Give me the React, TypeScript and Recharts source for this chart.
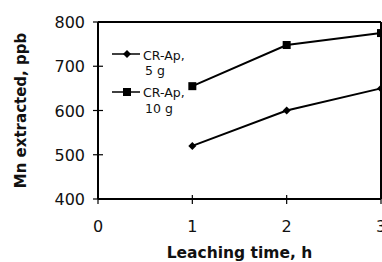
import { LineChart, Line, XAxis, YAxis, ReferenceLine } from 'recharts';

const hours = [1, 2, 3];
const mn5g = [520, 600, 650];
const mn10g = [655, 748, 775];
const xTicks = [0, 1, 2, 3];
const yTicks = [400, 500, 600, 700, 800];
const seriesNames = ['CR-Ap,|5 g', 'CR-Ap,|10 g'];

const data = hours.map((h, i) => ({ h, a: mn5g[i], b: mn10g[i] }));

const FONT = '"DejaVu Sans", Arial, sans-serif';

function XTick(props: any) {
  const { x, y, payload } = props;
  return (
    <g>
      <line x1={x} x2={x} y1={y - 4} y2={y + 5} stroke="#000" strokeWidth={1.2} />
      <text x={x} y={y + 33} textAnchor="middle" fontSize={16} fontFamily={FONT} fill="#111">
        {payload.value}
      </text>
    </g>
  );
}

function YTick(props: any) {
  const { x, y, payload } = props;
  return (
    <g>
      <line x1={x - 5} x2={x + 5} y1={y} y2={y} stroke="#000" strokeWidth={1.2} />
      <text x={x - 13} y={y + 6} textAnchor="end" fontSize={16} fontFamily={FONT} fill="#111">
        {payload.value}
      </text>
    </g>
  );
}

function Diamond(props: any) {
  const { cx, cy } = props;
  if (cx == null || cy == null) return null;
  return <path d={`M${cx} ${cy - 4}L${cx + 4} ${cy}L${cx} ${cy + 4}L${cx - 4} ${cy}Z`} fill="#000" />;
}

function Square(props: any) {
  const { cx, cy } = props;
  if (cx == null || cy == null) return null;
  return <rect x={cx - 4} y={cy - 4} width={8} height={8} fill="#000" />;
}

function LegendBox() {
  const [a1, a2] = seriesNames[0].split('|');
  const [b1, b2] = seriesNames[1].split('|');
  return (
    <svg width={80} height={72} style={{ position: 'absolute', left: 112, top: 47 }}>
      <line x1={0} x2={28} y1={7} y2={7} stroke="#000" strokeWidth={1.5} />
      <Diamond cx={15} cy={7} />
      <text x={31} y={13} fontSize={12.5} fontFamily={FONT} fill="#111">{a1}</text>
      <text x={33} y={28} fontSize={12.5} fontFamily={FONT} fill="#111">{a2}</text>
      <line x1={0} x2={28} y1={45} y2={45} stroke="#000" strokeWidth={1.5} />
      <Square cx={15} cy={45} />
      <text x={31} y={50} fontSize={12.5} fontFamily={FONT} fill="#111">{b1}</text>
      <text x={33} y={66} fontSize={12.5} fontFamily={FONT} fill="#111">{b2}</text>
    </svg>
  );
}

export default function App() {
  return (
    <div style={{ position: 'fixed', left: 0, top: 0, width: 382, height: 262, overflow: 'hidden', background: '#fff' }}>
      <LineChart
        width={400}
        height={262}
        data={data}
        margin={{ top: 22, right: 19, bottom: 0, left: 0 }}
      >
        <XAxis
          dataKey="h"
          type="number"
          domain={[0, 3]}
          ticks={xTicks}
          tickSize={0}
          tickMargin={0}
          tickLine={false}
          tick={<XTick />}
          axisLine={{ stroke: '#000', strokeWidth: 2 }}
          height={63}
          label={{
            value: 'Leaching time, h',
            position: 'insideBottom',
            offset: 4,
            style: { fontSize: 15.5, fontWeight: 'bold', fontFamily: FONT, fill: '#111' },
          }}
        />
        <YAxis
          type="number"
          domain={[400, 800]}
          ticks={yTicks}
          tickSize={0}
          tickMargin={0}
          tickLine={false}
          tick={<YTick />}
          axisLine={{ stroke: '#000', strokeWidth: 2 }}
          width={98}
          label={{
            value: 'Mn extracted, ppb',
            angle: -90,
            position: 'insideLeft',
            offset: 21,
            style: { fontSize: 15, fontWeight: 'bold', fontFamily: FONT, fill: '#111', textAnchor: 'middle' },
          }}
        />
        <ReferenceLine y={800} stroke="#000" strokeWidth={2} ifOverflow="visible" />
        <ReferenceLine x={3} stroke="#000" strokeWidth={2} ifOverflow="visible" />
        <Line
          dataKey="a"
          stroke="#000"
          strokeWidth={2}
          dot={<Diamond />}
          activeDot={false}
          isAnimationActive={false}
        />
        <Line
          dataKey="b"
          stroke="#000"
          strokeWidth={2}
          dot={<Square />}
          activeDot={false}
          isAnimationActive={false}
        />
      </LineChart>
      <LegendBox />
    </div>
  );
}
